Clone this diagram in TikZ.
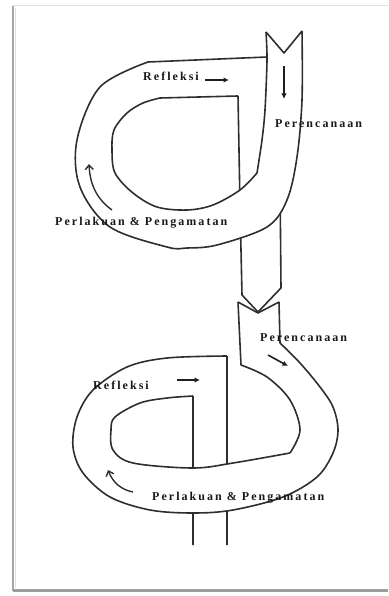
\documentclass[tikz,border=0pt]{standalone}
\usepackage{fontspec}
\newfontfamily\lblfont{Liberation Serif}[UprightFont=* Bold,LetterSpace=17]
\usetikzlibrary{arrows.meta,intersections}
\begin{document}
\begin{tikzpicture}[x=1pt,y=-1pt,
  tube/.style={line width=1.6pt,draw=black!82,line join=round},
  lbl/.style={font=\lblfont\fontsize{12}{14}\selectfont,inner sep=0pt,anchor=base west,text=black!90},
  straightarr/.style={line width=1.6pt,draw=black!88,-{Latex[length=5.5pt,width=5.5pt]}},
  curvearr/.style={line width=1.4pt,draw=black!82,-{Straight Barb[length=4.5pt,width=8pt]}}]
\useasboundingbox (0,0) rectangle (388,596);
% page frame
\draw[black!12,line width=1pt] (13,6) -- (388,6);
\draw[black!35,line width=2.2pt] (13,6) -- (13,591);
\draw[black!12,line width=1pt] (15.8,8) -- (15.8,588);
\draw[black!38,line width=3pt] (13,590) -- (388,590);
% ---------- top spiral ----------
\draw[tube] (266,32) -- (284,53) -- (302,31);
\draw[tube,name path=outerA] plot[smooth,tension=0.55] coordinates {(302,31) (302,100) (297,157) (287,200) (267,227) (217,245) (187,248) (167,247) (110,227) (80,187) (77,140) (100,87) (148,62)} -- (267,57);
\draw[tube] plot[smooth,tension=0.5] coordinates {(266,32) (267,60) (265,110) (262,140) (257,173)};
\draw[tube,name path=innerA] plot[smooth,tension=0.55] coordinates {(257,173) (240,190) (213,205) (187,210) (157,207) (133,193) (115,173) (112,150) (114,130) (127,113) (143,103) (160,98)} -- (238,96);
\path[name path=vA] (238,96) -- (240,205);
\path[name intersections={of=innerA and vA,by=iA}];
\draw[tube] (238,96) -- (iA);
\path[name path=stemAL] (240,205) -- (242,295);
\path[name path=stemAR] (280,180) -- (281,288);
\path[name intersections={of=outerA and stemAL,by=sAL}];
\path[name intersections={of=outerA and stemAR,by=sAR}];
\draw[tube] (sAL) -- (242,295) -- (258,312) -- (281,288) -- (sAR);
% ---------- bottom spiral ----------
\draw[tube] (238,302) -- (258,313) -- (279,302);
\draw[tube,name path=outerB] (279,302) -- (280,343) plot[smooth,tension=0.55] coordinates {(280,343) (300,363) (320,387) (333,407) (338,430) (333,453) (317,477) (283,497) (233,510) (193,513) (150,510) (110,497) (83,473) (73,447) (77,417) (93,390) (127,367) (167,358) (227,356)} -- (227,356);
\draw[tube] (238,302) -- (241,365) plot[smooth,tension=0.55] coordinates {(241,365) (267,377) (290,400) (300,430) (290,453)};
\draw[tube,name path=innerB] plot[smooth,tension=0.55] coordinates {(290,453) (233,463) (193,468) (133,463) (113,450) (111,430) (115,417) (140,403) (167,398) (193,396)};
\path[name path=vB1] (193,396) -- (193,485);
\path[name path=vB2] (227,356) -- (227,485);
\path[name intersections={of=innerB and vB1,by=iB1}];
\path[name intersections={of=innerB and vB2,by=iB2}];
\draw[tube] (193,396) -- (iB1);
\draw[tube] (227,356) -- (iB2);
\path[name path=stemBL] (193,490) -- (193,545);
\path[name path=stemBR] (227,490) -- (227,545);
\path[name intersections={of=outerB and stemBL,by=sBL}];
\path[name intersections={of=outerB and stemBR,by=sBR}];
\draw[tube] (sBL) -- (193,545);
\draw[tube] (sBR) -- (227,545);
% ---------- arrows ----------
\coordinate (a1s) at (205,80); \coordinate (a1e) at (229,80);
\draw[straightarr] (a1s) -- (a1e);
\coordinate (a2s) at (284,66); \coordinate (a2e) at (284,99);
\draw[straightarr] (a2s) -- (a2e);
\coordinate (a3s) at (112,210); \coordinate (a3e) at (89,164);
\draw[curvearr] (a3s) .. controls (98,200) and (90,186) .. (a3e);
\coordinate (b1s) at (268,355); \coordinate (b1e) at (288,366);
\draw[straightarr] (b1s) -- (b1e);
\coordinate (b2s) at (177,380); \coordinate (b2e) at (200,380);
\draw[straightarr] (b2s) -- (b2e);
\coordinate (b3s) at (133,492); \coordinate (b3e) at (108,470);
\draw[curvearr] (b3s) .. controls (122,490) and (113,483) .. (b3e);
% ---------- labels ----------
\node[lbl] (t1) at (143,81) {Refleksi};
\node[lbl] (t2) at (275,127.5) {Perencanaan};
\node[lbl] (t3) at (55,225) {Perlakuan \& Pengamatan};
\node[lbl] (u1) at (260,341) {Perencanaan};
\node[lbl] (u2) at (93,389) {Refleksi};
\node[lbl] (u3) at (152,500.5) {Perlakuan \& Pengamatan};
\end{tikzpicture}
\end{document}
